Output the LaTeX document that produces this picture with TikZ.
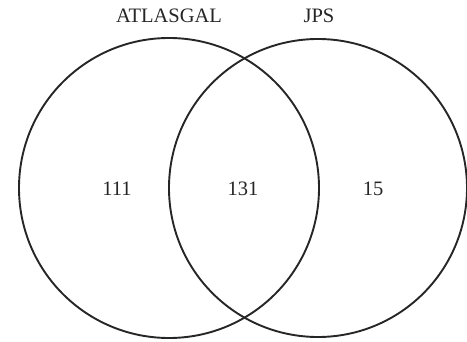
\documentclass[tikz,border=0pt]{standalone}
\usepackage{fontspec}
\setmainfont{Liberation Serif}
\begin{document}
\begin{tikzpicture}[x=1pt,y=-1pt,
  setcircle/.style={draw=black!85,line width=1.9pt},
  lbl/.style={font=\fontsize{20.5}{24}\selectfont,text=black!85,inner sep=0pt}]
\useasboundingbox (0,0) rectangle (467,342);
\draw[setcircle] (169,188) circle[radius=150];
\draw[setcircle] (318,188) circle[radius=149];
\node[lbl] (atl) at (169,16) {ATLASGAL};
\node[lbl] (jps) at (319,16) {JPS};
\node[lbl] (a) at (117,189) {111};
\node[lbl] (b) at (243,189) {131};
\node[lbl] (c) at (373,189) {15};
\end{tikzpicture}
\end{document}
